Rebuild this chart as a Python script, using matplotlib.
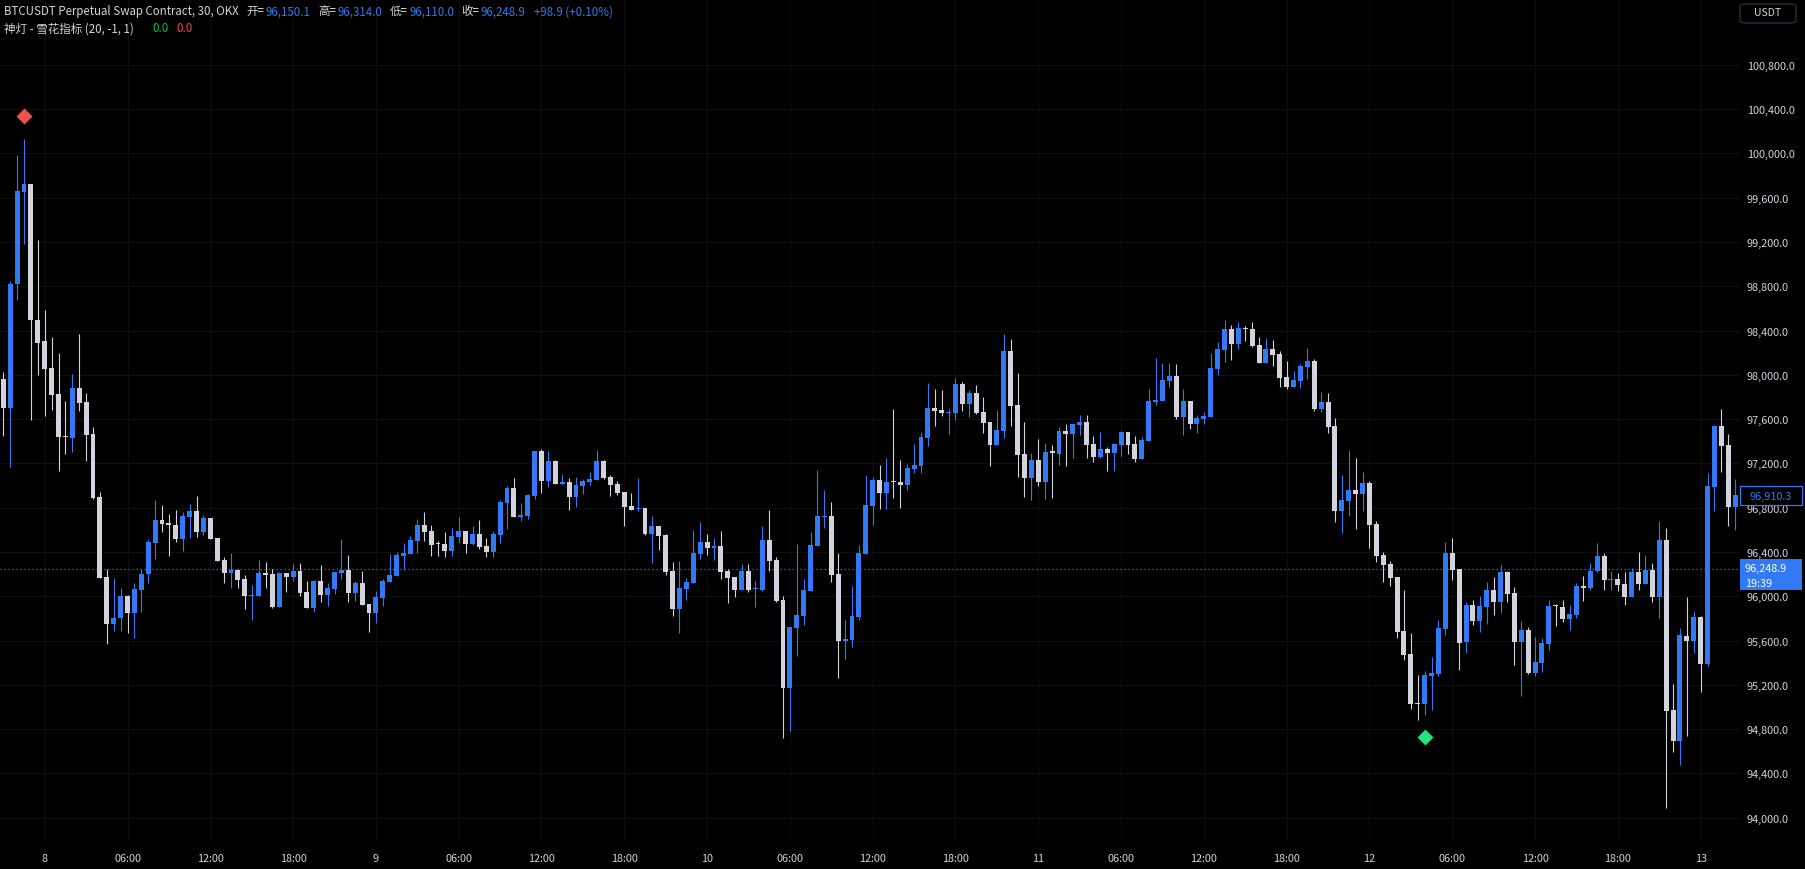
import numpy as np
import matplotlib.pyplot as plt
from matplotlib.patches import Rectangle, FancyBboxPatch

plt.rcParams['font.family'] = ['Noto Sans CJK SC', 'DejaVu Sans']

# 30 minute candles, first one is day 7 21:00
opens = [97964, 97704, 98819, 99652, 99725, 98496, 98306, 98062, 97828, 97438,
         97425, 97881, 97755, 97467, 96896, 96174, 95750, 95801, 96003, 95851,
         96060, 96197, 96485, 96691, 96652, 96644, 96517, 96719, 96770, 96580,
         96707, 96526, 96328, 96210, 96237, 96156, 96002, 96002, 96210, 96201,
         95903, 96210, 96174, 96228, 96039, 95894, 96138, 96011, 96066, 96211,
         96238, 96030, 96121, 95931, 95850, 95985, 96130, 96184, 96364, 96382,
         96500, 96644, 96590, 96473, 96473, 96409, 96536, 96590, 96473, 96563,
         96455, 96400, 96554, 96843, 96978, 96716, 96725, 96905, 97312, 97041,
         97221, 97014, 97032, 96896, 96996, 97032, 97050, 97221, 97077, 97014,
         96942, 96815, 96788, 96797, 96562, 96635, 96553, 96228, 95885, 96066,
         96120, 96382, 96491, 96437, 96455, 96229, 96175, 96057, 96229, 96066,
         96057, 96509, 96328, 95967, 95172, 95714, 95823, 96048, 96455, 96717,
         96726, 96202, 95597, 95606, 95814, 96382, 96816, 97050, 96936, 97032,
         97032, 97008, 97150, 97177, 97430, 97701, 97683, 97655, 97655, 97917,
         97737, 97836, 97665, 97574, 97367, 97493, 98215, 97728, 97285, 97069,
         97231, 97032, 97301, 97285, 97493, 97466, 97547, 97574, 97375, 97258,
         97330, 97294, 97366, 97484, 97375, 97240, 97402, 97755, 97764, 97944,
         97989, 97619, 97764, 97556, 97601, 97619, 98053, 98224, 98414, 98278,
         98423, 98414, 98269, 98107, 98233, 98188, 97980, 97890, 97944, 98071,
         98125, 97691, 97754, 97538, 96770, 96861, 96960, 96924, 97023, 96653,
         96373, 96292, 96174, 95687, 95479, 95037, 95027, 95280, 95298, 95705,
         96391, 96246, 95587, 95921, 95777, 95903, 96057, 95948, 96219, 96030,
         95587, 95696, 95307, 95398, 95569, 95915, 95903, 95795, 95831, 96093,
         96075, 96228, 96364, 96147, 96156, 96111, 95993, 96219, 96111, 96237,
         95993, 96508, 94973, 94693, 95641, 95596, 95813, 95388, 96987, 97538,
         97366, 96806]
highs = [98021, 98844, 99984, 100133, 99725, 99218, 98584, 98341, 98198, 97764,
         98008, 98369, 97837, 97530, 96944, 96247, 96165, 96079, 96016, 96121,
         96247, 96520, 96871, 96827, 96743, 96779, 96761, 96833, 96906, 96734,
         96707, 96526, 96355, 96391, 96246, 96192, 96102, 96328, 96310, 96246,
         96219, 96210, 96291, 96300, 96138, 96147, 96282, 96120, 96219, 96518,
         96373, 96139, 96229, 95931, 96048, 96157, 96382, 96400, 96482, 96545,
         96698, 96762, 96644, 96500, 96581, 96617, 96717, 96590, 96635, 96689,
         96527, 96590, 96870, 96996, 97068, 96842, 96923, 97312, 97330, 97312,
         97231, 97104, 97068, 97077, 97059, 97122, 97321, 97231, 97095, 97041,
         96942, 96933, 97068, 96797, 96725, 96635, 96562, 96309, 96318, 96165,
         96598, 96671, 96563, 96527, 96590, 96247, 96175, 96292, 96292, 96139,
         96635, 96780, 96355, 96003, 95723, 96473, 96157, 96581, 97141, 96960,
         96852, 96391, 95786, 96093, 96464, 97096, 97078, 97186, 97249, 97692,
         97231, 97195, 97376, 97484, 97926, 97872, 97863, 97692, 97972, 97935,
         97863, 97908, 97800, 97574, 97683, 98369, 98324, 98017, 97574, 97294,
         97421, 97385, 97366, 97529, 97556, 97556, 97637, 97637, 97448, 97484,
         97348, 97384, 97493, 97484, 97448, 97438, 97872, 98152, 98107, 98107,
         98098, 97872, 97764, 97637, 97664, 98197, 98296, 98495, 98450, 98477,
         98441, 98477, 98341, 98332, 98314, 98215, 98125, 98034, 98098, 98242,
         98143, 97845, 97836, 97610, 97095, 97321, 97249, 97122, 97041, 96680,
         96400, 96319, 96174, 96057, 95669, 95289, 95325, 95452, 95786, 96490,
         96526, 96246, 95949, 95967, 96003, 96129, 96174, 96283, 96228, 96084,
         95777, 95723, 95632, 95623, 95967, 95930, 95967, 95921, 96120, 96183,
         96300, 96481, 96391, 96228, 96210, 96219, 96255, 96400, 96373, 96300,
         96680, 96616, 95208, 95713, 95993, 95867, 95822, 97113, 97547, 97691,
         97465, 97059]
lows = [97451, 97166, 98679, 99177, 97596, 98002, 97631, 97679, 97134, 97289,
        97299, 97669, 97226, 96881, 96168, 95566, 95690, 95690, 95664, 95627,
        95861, 96124, 96333, 96577, 96367, 96493, 96412, 96526, 96535, 96553,
        96517, 96319, 96120, 96075, 96075, 95885, 95786, 96002, 96075, 95894,
        95903, 96039, 96138, 96002, 95894, 95858, 95948, 95912, 96021, 96157,
        95949, 95958, 95922, 95678, 95759, 95913, 96130, 96184, 96238, 96382,
        96391, 96500, 96364, 96364, 96355, 96364, 96482, 96391, 96464, 96428,
        96355, 96355, 96482, 96608, 96716, 96680, 96698, 96878, 96933, 96987,
        97014, 97005, 96779, 96806, 96924, 97005, 97050, 97059, 96905, 96914,
        96635, 96779, 96770, 96553, 96300, 96418, 96192, 95822, 95668, 95962,
        96120, 96337, 96373, 96328, 96157, 95940, 95994, 96057, 96039, 95904,
        96048, 96229, 95949, 94721, 94784, 95461, 95741, 96048, 96455, 96617,
        96130, 95263, 95434, 95543, 95786, 96382, 96644, 96789, 96789, 96888,
        96798, 96960, 97114, 97114, 97357, 97538, 97628, 97466, 97592, 97674,
        97619, 97646, 97475, 97177, 97367, 97430, 97538, 97078, 96897, 96870,
        96996, 96879, 96888, 97186, 97177, 97249, 97457, 97249, 97213, 97249,
        97131, 97131, 97267, 97285, 97213, 97240, 97402, 97727, 97764, 97890,
        97601, 97457, 97511, 97475, 97556, 97619, 97998, 98116, 98134, 98233,
        98305, 98251, 98107, 98107, 98080, 97890, 97872, 97890, 97881, 97962,
        97673, 97664, 97475, 96671, 96572, 96725, 96608, 96770, 96436, 96310,
        96130, 96090, 95623, 95425, 94982, 94883, 94928, 94973, 95280, 95651,
        96147, 95334, 95488, 95741, 95678, 95750, 95831, 95849, 95949, 95380,
        95100, 95298, 95280, 95316, 95515, 95732, 95768, 95695, 95804, 95957,
        96057, 96219, 96057, 96057, 96048, 95921, 95993, 96057, 96111, 95948,
        95804, 94088, 94594, 94476, 94738, 95488, 95136, 95370, 96770, 97122,
        96634, 96598]
closes = [97704, 98822, 99661, 99725, 98496, 98290, 98052, 97821, 97435, 97435,
          97881, 97748, 97460, 96890, 96168, 95750, 95804, 96003, 95851, 96067,
          96203, 96491, 96691, 96649, 96648, 96517, 96725, 96770, 96580, 96707,
          96517, 96319, 96210, 96237, 96150, 96002, 96011, 96210, 96192, 95903,
          96210, 96174, 96228, 96030, 95894, 96138, 96011, 96075, 96219, 96238,
          96030, 96121, 95922, 95850, 95994, 96139, 96193, 96373, 96391, 96509,
          96644, 96581, 96464, 96470, 96409, 96545, 96590, 96473, 96563, 96446,
          96400, 96563, 96852, 96978, 96716, 96734, 96914, 97312, 97041, 97221,
          97014, 97032, 96896, 97005, 97041, 97059, 97221, 97068, 97005, 96933,
          96806, 96779, 96797, 96562, 96635, 96544, 96219, 95885, 96075, 96129,
          96391, 96491, 96437, 96455, 96220, 96166, 96057, 96229, 96057, 96070,
          96509, 96319, 95958, 95172, 95723, 95832, 96057, 96464, 96726, 96726,
          96193, 95597, 95615, 95823, 96391, 96825, 97051, 96936, 97032, 97029,
          97008, 97159, 97186, 97439, 97701, 97674, 97655, 97665, 97917, 97737,
          97836, 97655, 97565, 97367, 97502, 98215, 97719, 97276, 97069, 97231,
          97032, 97303, 97298, 97493, 97466, 97556, 97574, 97366, 97258, 97330,
          97294, 97375, 97484, 97366, 97240, 97411, 97764, 97773, 97953, 97989,
          97619, 97764, 97556, 97610, 97628, 98062, 98233, 98414, 98278, 98423,
          98414, 98260, 98107, 98233, 98179, 97971, 97890, 97953, 98080, 98125,
          97691, 97754, 97529, 96770, 96870, 96960, 96924, 97023, 96644, 96364,
          96283, 96168, 95678, 95470, 95027, 95030, 95289, 95307, 95714, 96391,
          96237, 95578, 95921, 95777, 95912, 96057, 95948, 96219, 96021, 95587,
          95696, 95307, 95407, 95578, 95912, 95912, 95795, 95840, 96093, 96075,
          96228, 96364, 96147, 96156, 96102, 95993, 96219, 96111, 96237, 95993,
          96508, 94964, 94693, 95650, 95596, 95813, 95388, 96996, 97538, 97357,
          96806, 96915]

time_labels = ['8', '06:00', '12:00', '18:00', '9', '06:00', '12:00', '18:00',
               '10', '06:00', '12:00', '18:00', '11', '06:00', '12:00', '18:00',
               '12', '06:00', '12:00', '18:00', '13']
first_tick = 6      # candle index of day 8 00:00
price_ticks = list(range(94000, 101000, 400))

last_price = 96248.9
countdown = '19:39'
bar_close = 96910.3

sell_idx, sell_price = [3], [100339]
buy_idx, buy_price = [206], [94727]

BLUE = '#3179f5'
GREY = '#d1d4dc'
BG = '#000000'
GRID = '#0e0e0e'

W, H = 1805, 870
fig = plt.figure(figsize=(W / 100, H / 100), dpi=100, facecolor=BG)
ax = fig.add_axes([0, 27 / H, 1740 / W, 843 / H], facecolor=BG)

o = np.array(opens, float)
hi = np.array(highs, float)
lo = np.array(lows, float)
c = np.array(closes, float)
x = np.arange(len(o))
cols = np.where(c >= o, BLUE, GREY)

ax.vlines(x, lo, hi, colors=cols, lw=0.8, zorder=3)
ax.bar(x, np.maximum(np.abs(c - o), 10), bottom=np.minimum(o, c), width=0.72,
       color=cols, linewidth=0, zorder=4)

ax.plot(sell_idx, sell_price, 'D', color='#f55050', ms=8, mec='none', zorder=5)
ax.plot(buy_idx, buy_price, 'D', color='#1fe57a', ms=8, mec='none', zorder=5)

ax.axhline(last_price, color=BLUE, lw=0.9, ls=(0, (1, 2.2)), zorder=2)

ax.set_xlim(-0.48, 251.7)
ax.set_ylim(93781, 101394)
ax.set_xticks(first_tick + 12 * np.arange(len(time_labels)))
ax.set_xticklabels(time_labels)
ax.set_yticks(price_ticks)
ax.set_yticklabels([f'{p:,.1f}' for p in price_ticks])
ax.yaxis.tick_right()
ax.tick_params(axis='y', length=0, pad=5, labelcolor=GREY, labelsize=7.8)
ax.tick_params(axis='x', length=0, pad=8, labelcolor=GREY, labelsize=7.8)
ax.grid(color=GRID, lw=0.8, zorder=0)
ax.set_axisbelow(True)
for s in ax.spines.values():
    s.set_visible(False)

# price labels on the scale
tr = ax.get_yaxis_transform()
ax.add_patch(Rectangle((1.0, bar_close - 82), 62 / 1740, 164, transform=tr,
                       facecolor=BG, edgecolor=BLUE, lw=0.9, clip_on=False, zorder=10))
ax.text(1.0 + 31 / 1740, bar_close, f'{bar_close:,.1f}', transform=tr, color=BLUE,
        fontsize=7.8, ha='center', va='center', zorder=11, clip_on=False)
ax.add_patch(Rectangle((1.0, last_price - 190), 62 / 1740, 280, transform=tr,
                       facecolor=BLUE, edgecolor='none', clip_on=False, zorder=10))
ax.text(1.0 + 5 / 1740, last_price + 5, f'{last_price:,.1f}', transform=tr, color='white',
        fontsize=7.8, ha='left', va='center', zorder=11, clip_on=False)
ax.text(1.0 + 5 / 1740, last_price - 125, countdown, transform=tr, color='white',
        fontsize=7.8, ha='left', va='center', zorder=11, clip_on=False)

# header legend: (text, x in px, colour)
line1 = [('BTCUSDT Perpetual Swap Contract, 30, OKX', 3.6, GREY),
         ('开=', 246, GREY), ('96,150.1', 264.7, BLUE),
         ('高=', 318, GREY), ('96,314.0', 337, BLUE),
         ('低=', 389.7, GREY), ('96,110.0', 409.4, BLUE),
         ('收=', 461.6, GREY), ('96,248.9', 480.8, BLUE),
         ('+98.9 (+0.10%)', 534.4, BLUE)]
line2 = [('神灯 - 雪花指标 (20, -1, 1)', 3.6, GREY),
         ('0.0', 152.2, '#00c060'), ('0.0', 176.3, '#e54a4a')]

r = fig.canvas.get_renderer()
for segs, ypx in [(line1, 11.8), (line2, 28.8)]:
    cur = 0
    for txt, px, col in segs:
        px = max(px, cur + 1.5)
        t = fig.text(px / W, 1 - ypx / H, txt, color=col, fontsize=8.3,
                     ha='left', va='center')
        cur = px + t.get_window_extent(r).width

fig.add_artist(FancyBboxPatch((1740 / W, 1 - 24 / H), 56 / W, 19 / H,
                              boxstyle='round,pad=0,rounding_size=0.003',
                              transform=fig.transFigure, facecolor=BG,
                              edgecolor='#2a2e39', lw=1))
fig.text(1768 / W, 1 - 13.5 / H, 'USDT', color=GREY, fontsize=7.5, ha='center', va='center')

fig.savefig('out.png', dpi=100, facecolor=BG)
